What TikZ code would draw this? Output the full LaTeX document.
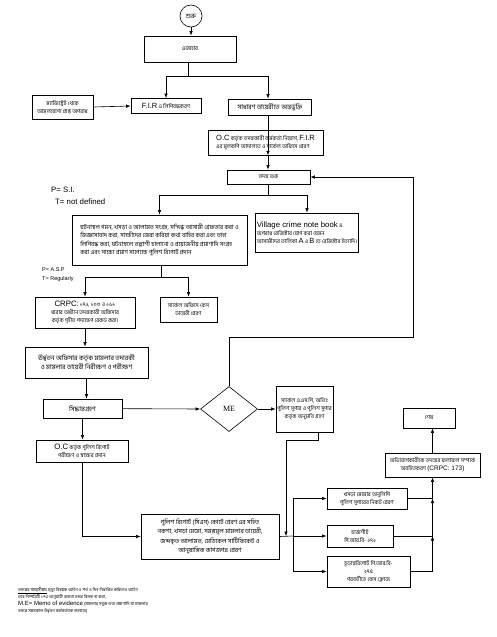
\documentclass[tikz,border=0pt]{standalone}
\usepackage{fontspec}
\usepackage{tikz}
\usetikzlibrary{positioning,arrows.meta,shapes.geometric,calc}
\setmainfont[Script=Bengali]{Hind Siliguri}
\newfontfamily\lat{Liberation Sans}
\newfontfamily\serif{Liberation Serif}

\begin{document}
\begin{tikzpicture}[x=1pt,y=-1pt,
  caja/.style={draw, line width=0.8pt, inner sep=1pt, align=center,
    font=\fontsize{5.5}{8}\selectfont},
  flecha/.style={line width=0.6pt, -{Latex[length=4.5pt,width=3.5pt]}},
  linea/.style={line width=0.6pt},
  nota/.style={anchor=west, inner sep=0pt, align=left,
    font=\lat\fontsize{7.8}{9}\selectfont}]
  \useasboundingbox (0,0) rectangle (497,637);

  % Inicio
  \node[draw, circle, line width=0.6pt, minimum size=22pt, inner sep=0pt,
    font=\fontsize{6.5}{7}\selectfont] (inicio) at (191,16) {শুরু};
  \node[caja, minimum width=92pt, minimum height=26pt] (ejahar) at (190,49) {এজাহার};

  % Registro
  \node[caja, minimum width=61pt, minimum height=24pt] (magis) at (62.5,107)
    {ম্যাজিস্ট্রেট থেকে\\আমলযোগ্য প্রাপ্ত অপরাধ};
  \node[caja, minimum width=70pt, minimum height=15pt] (fir) at (166,106)
    {{\lat\fontsize{7.5}{8}\selectfont F.I.R} এ লিপিবদ্ধকরণ};
  \node[caja, minimum width=83pt, minimum height=16pt, font=\fontsize{6.5}{8}\selectfont] (gd) at (270,107)
    {সাধারণ ডায়েরীতে অন্তর্ভুক্তি};
  \node[caja, align=left, minimum width=115pt, minimum height=25pt] (oc) at (265.5,142.5)
    {{\lat\fontsize{7.5}{8}\selectfont O.C} কর্তৃক তদন্তকারী কর্মকর্তা নিয়োগ, {\lat\fontsize{7.5}{8}\selectfont F.I.R}\\
     এর মূলকপি আদালতে ও সার্কেল অফিসে প্রেরণ};
  \node[caja, minimum width=83pt, minimum height=14pt] (tadanta) at (268.5,177) {তদন্ত শুরু};

  % Investigacion
  \node[nota] (psi) at (51,190) {P= S.I.};
  \node[nota] (tsi) at (55,202) {T= not defined};
  \node[caja, align=left, minimum width=175pt, minimum height=50pt,
    font=\fontsize{6}{8.3}\selectfont] (campo) at (159.5,240)
    {ঘটনাস্থল গমন, খসড়া ও আলামত সংগ্রহ, সন্দিগ্ধ আসামী গ্রেফতার করা ও\\
     জিজ্ঞাসাবাদ করা, সাক্ষীদের জেরা করিয়া কথা বাহির করা এবং তাহা\\
     লিপিবদ্ধ করা, ঘটনাস্থলে তল্লাশী চালানো ও প্রয়োজনীয় প্রমাণাদি সংগ্রহ\\
     করা এবং সাক্ষ্য প্রমাণ সাপেক্ষে পুলিশ রিপোর্ট প্রদান};
  \node[caja, align=left, minimum width=96pt, minimum height=39pt] (village) at (307,232.5)
    {{\lat\fontsize{7.8}{9}\selectfont Village crime note book} এ\\
     অপরাধ রেজিস্টার যোগ করা যেমন\\
     আসামীদের তালিকা {\lat\fontsize{7.5}{8}\selectfont A} ও {\lat\fontsize{7.5}{8}\selectfont B} তে রেজিস্টার ইত্যাদি।};

  % Supervision
  \node[nota, font=\lat\fontsize{5.5}{6}\selectfont] (pasp) at (42,270) {P= A.S.P};
  \node[nota, font=\lat\fontsize{5.5}{6}\selectfont] (tasp) at (42,279) {T= Regularly};
  \node[caja, minimum width=100pt, minimum height=31pt] (crpc) at (85,312.5)
    {{\lat\fontsize{7.8}{8}\selectfont CRPC:} ১৭২, ১০৩ ও ১৬১\\
     ধারার অধীনে তদন্তকারী অফিসার\\কর্তৃক গৃহীত পদক্ষেপ রেকর্ড করা।};
  \node[caja, minimum width=57pt, minimum height=25pt] (circ) at (188.5,309.5)
    {সার্কেল অফিসে কেস\\ডায়েরী প্রেরণ};
  \node[caja, minimum width=123pt, minimum height=31pt, font=\fontsize{6.5}{9}\selectfont] (urdhva) at (86.5,362.5)
    {ঊর্ধ্বতন অফিসার কর্তৃক মামলার তদারকী\\ও মামলার ডায়েরী নিরীক্ষণ ও পরীক্ষণ};

  % Decision
  \node[caja, minimum width=79pt, minimum height=19pt, font=\fontsize{6.5}{8}\selectfont] (siddhanta) at (82.5,408.5) {সিদ্ধান্তগ্রহণ};
  \node[draw, diamond, line width=0.6pt, minimum width=57pt, minimum height=45pt,
    inner sep=0pt, font=\serif\fontsize{8}{9}\selectfont] (me) at (229,409) {ME};
  \node[caja, minimum width=57pt, minimum height=46pt] (asp) at (304.5,409)
    {সার্কেল এ.এস.পি, অতিঃ\\পুলিশ সুপার ও পুলিশ সুপার\\কর্তৃক অনুমতি গ্রহণ};
  \node[caja, minimum width=92pt, minimum height=22pt] (oc2) at (82,451)
    {{\lat\fontsize{7.8}{8}\selectfont O.C} কর্তৃক পুলিশ রিপোর্ট\\পরীক্ষণ ও স্বাক্ষর প্রদান};

  % Informe
  \node[caja, minimum width=138pt, minimum height=45pt, font=\fontsize{6.2}{9.3}\selectfont] (report) at (210,536.5)
    {পুলিশ রিপোর্ট (সিএস) কোর্টে প্রেরণ এর সহিত\\
     নকশা, খসড়া মেমো, সমস্তমূল মামলার ডায়েরী,\\
     জব্দকৃত আলামত, মেডিকেল সার্টিফিকেট ও\\আনুষাঙ্গিক কাগজপত্র প্রেরণ};
  \node[caja, minimum width=80pt, minimum height=21pt] (khasra) at (367,498.5)
    {খসড়া মেমোর অনুলিপি\\পুলিশ সুপারের নিকট প্রেরণ};
  \node[caja, minimum width=66pt, minimum height=22pt] (charge) at (360,536)
    {চার্জশীট\\পি.আর.বি- ২৭২};
  \node[caja, minimum width=83pt, minimum height=31pt] (final) at (368.5,571.5)
    {চূড়ান্তরিপোর্ট পি.আর.বি-\\২৭৫\\পরবর্তীতে কেস ক্লোজ};
  \node[caja, minimum width=95pt, minimum height=24pt] (abhijog) at (432.5,465)
    {অভিযোগকারীকে তদন্তের ফলাফল সম্পর্কে\\অবহিতকরণ {\lat\fontsize{6.5}{7}\selectfont (CRPC: 173)}};
  \node[caja, minimum width=52pt, minimum height=20pt] (shesh) at (429,418) {শেষ};

  % Nota final
  \node[anchor=north west, inner sep=0pt, align=left, font=\fontsize{4.3}{7}\selectfont] (pie) at (18,587)
    {\underline{তদন্তের সময়সীমাঃ} মৃত্যু বিষয়ক আইন ও শর্ত ও দিন নির্ধারিত করিলেও আইন\\
     তবে নিষ্পত্তিটি ১৭৩ অনুযায়ী অযথা তদন্ত বিলম্ব না করা,\\
     {\lat\fontsize{6}{7}\selectfont M.E= Memo of evidence} (মামলার সবুজ তথ্য প্রমাণাদি যা মামলার\\
     তদন্তে সময়কাল উর্ধ্বতন কর্মকর্তাকে জানাবে)};

  % Conectores
  \coordinate (j1) at (188,76);
  \coordinate (j2) at (268,195);
  \coordinate (j3) at (161,277);
  \coordinate (r1) at (413,337);
  \coordinate (j4) at (286,536);
  \coordinate (j5) at (293,536);

  \draw[flecha] (inicio) -- (inicio.south |- ejahar.north);
  \draw[linea] (ejahar.south -| j1) -- (j1);
  \draw[flecha] (j1) -| (fir.north);
  \draw[flecha] (j1) -| (j1 -| 268,0) -- (268,0 |- gd.north);
  \draw[flecha] (magis.east) -- (fir.west);
  \draw[flecha] (268,0 |- gd.south) -- (268,0 |- oc.south) ;
  \draw[flecha] (oc.south -| 268,0) -- (268,0 |- tadanta.north);
  \draw[linea] (tadanta.south -| j2) -- (j2);
  \draw[flecha] (j2) -| (campo.north);
  \draw[flecha] (j2) -| (village.north);
  \draw[linea] (campo.south -| j3) -- (j3);
  \draw[flecha] (j3) -| (crpc.north);
  \draw[flecha] (j3) -| (circ.north);
  \draw[flecha] (crpc) -- (crpc.south |- urdhva.north);
  \draw[flecha] (urdhva) -- (urdhva.south |- siddhanta.north);
  \draw[flecha] (siddhanta) -- (me.west);
  \draw[flecha] (siddhanta) -- (siddhanta.south |- oc2.north);
  \draw[flecha] (me) -- (asp.west);
  \draw[flecha] (me.north) |- (r1) |- (tadanta.east);
  \draw[flecha] (oc2.south) |- (report.west);
  \draw[flecha] ([xshift=13.5pt]asp.south) -- ++(0,8) -| (j4);
  \draw[linea] (report.east) -- (j5);
  \draw[flecha] (j5) |- (khasra.west);
  \draw[flecha] (j5) -- (charge.west);
  \draw[flecha] (j5) |- (final.west);
  \draw[flecha] (khasra.east) -| (abhijog.south);
  \draw[flecha] (charge.east) -| (abhijog.south |- khasra.east);
  \draw[flecha] (final.east) -| (abhijog.south |- charge.east);
  \draw[flecha] (abhijog.north) -- (abhijog.north |- shesh.south);
\end{tikzpicture}
\end{document}
